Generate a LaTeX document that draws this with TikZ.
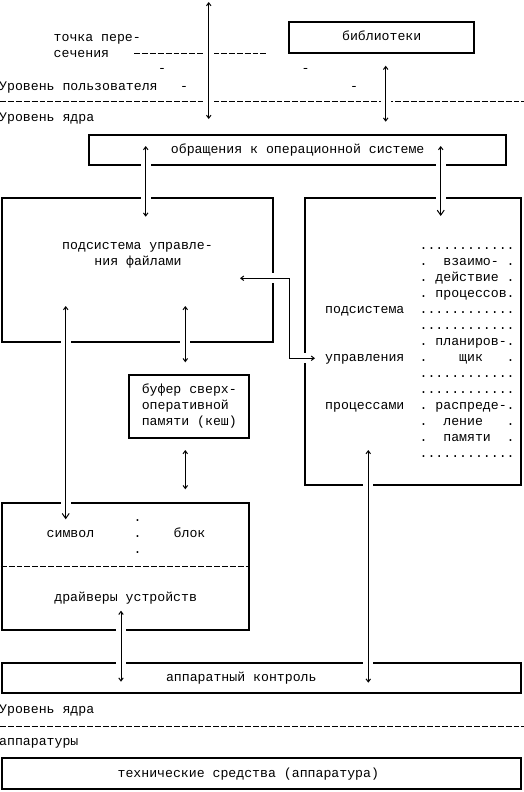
\documentclass[tikz,border=0pt]{standalone}
\usepackage{fontspec}
\newfontfamily\kfont{Liberation Mono}
\usepackage{tikz}
\usetikzlibrary{arrows.meta}

\tikzset{
  mono/.style={font=\kfont\fontsize{13.2}{16}\selectfont, inner sep=0pt},
  lbl/.style={mono, text height=9pt, text depth=3pt},
  box/.style={draw, line width=2pt, inner sep=0pt},
  link/.style={line width=1pt, {Straight Barb[length=3pt,width=4.5pt]}-{Straight Barb[length=3pt,width=4.5pt]},
    preaction={draw=white, line width=10pt, -}},
  linkv/.style={link, {Straight Barb[length=3pt,width=4.5pt]}-{Straight Barb[length=5pt,width=7pt]}},
  level/.style={line width=1pt, dash pattern=on 5.9pt off 2pt},
}

\begin{document}
\begin{tikzpicture}[x=1pt,y=-1pt]
\useasboundingbox (0,0) rectangle (524,792);

% boxes
\node[box, lbl, minimum width=184.7pt, minimum height=31.3pt] (lib) at (381.7,37.7) {библиотеки};
\node[box, lbl, minimum width=416.7pt, minimum height=30.3pt] (sys) at (297.7,150.2) {обращения к операционной системе};
\node[box, minimum width=271.6pt, minimum height=143.4pt] (fsys) at (137.5,270) {};
\node[box, minimum width=215.7pt, minimum height=287pt] (proc) at (412.9,341.8) {};
\node[box, mono, align=left, minimum width=120pt, minimum height=62.7pt] (cache) at (189.3,406.4) {буфер сверх-\\оперативной\\памяти (кеш)};
\node[box, minimum width=247.6pt, minimum height=126.7pt] (drv) at (125.5,566.7) {};
\node[box, minimum width=519pt, minimum height=30pt] (ctl) at (261.2,678.3) {};
\node[box, minimum width=519pt, minimum height=31pt] (tech) at (261.2,773.8) {};

% level lines
\draw[level] (0,101) -- (524,101);
\draw[level] (0,726) -- (524,726);
\draw[level] (134,54) -- (268,54);
\draw[level] (drv.west) -- (drv.east);

% connectors
\coordinate (u1) at (208.7,2);
\coordinate (u2) at (208.7,119);
\coordinate (l1) at (385.7,65.7);
\coordinate (l2) at (385.7,121.7);
\coordinate (s1) at (145.7,146);
\coordinate (s2) at (145.7,216.7);
\coordinate (s3) at (440.7,146);
\coordinate (s4) at (440.7,216);
\coordinate (f1) at (240,278.3);
\coordinate (bend) at (289.3,278.3);
\coordinate (p1) at (315,358.3);
\coordinate (f2) at (65.7,306);
\coordinate (d1) at (65.7,519.3);
\coordinate (f3) at (185.3,306);
\coordinate (c1) at (185.3,362.3);
\coordinate (c2) at (185.3,450);
\coordinate (d2) at (185.3,489.3);
\coordinate (d3) at (121,610.7);
\coordinate (h1) at (121,681.7);
\coordinate (p2) at (368.3,450);
\coordinate (h2) at (368.3,682.7);

\draw[link] (u1) -- (u2);
\draw[link] (l1) -- (l2);
\draw[link] (s1) -- (s2);
\draw[linkv] (s3) -- (s4);
\draw[link] (f1) -- (bend) |- (p1);
\draw[linkv] (f2) -- (d1);
\draw[link] (f3) -- (c1);
\draw[link] (c2) -- (d2);
\draw[link] (d3) -- (h1);
\draw[link] (p2) -- (h2);

% texts
\node[lbl, anchor=west] (cross1) at (53.5,38.3) {точка пере-};
\node[lbl, anchor=west] (cross2) at (53.5,54.3) {сечения};
\node[lbl, anchor=west] (user) at (-1,87) {Уровень пользователя};
\node[lbl, anchor=west] (kern1) at (-1,118) {Уровень ядра};
\foreach \x/\y [count=\i] in {162/70, 184/87, 305.7/70, 354/87}
  \node[lbl] (stroke\i) at (\x,\y) {-};
\node[lbl] (fsys1) at (137.5,246.7) {подсистема управле-};
\node[lbl] (fsys2) at (138,262.3) {ния файлами};

% process subsystem
\node[mono, anchor=base west] (pw1) at (325,313.5) {подсистема};
\node[mono, anchor=base west] (pw2) at (325,361.5) {управления};
\node[mono, anchor=base west] (pw3) at (325,409.5) {процессами};
\foreach \r/\t in {0/{............}, 1/{.~~взаимо-~.}, 2/{.~действие~.}, 3/{.~процессов.},
    4/{............}, 5/{............}, 6/{.~планиров-.}, 7/{.~~~~щик~~~.},
    8/{............}, 9/{............}, 10/{.~распреде-.}, 11/{.~~ление~~~.},
    12/{.~~памяти~~.}, 13/{............}}
  \node[mono, anchor=base west] (row\r) at (419.4,{249.5+16*\r}) {\t};

\node[lbl] (sym) at (70.5,534.3) {символ};
\foreach \y [count=\i] in {521.7,537.7,553.7}
  \node[mono, anchor=base] (dot\i) at (137.7,\y) {.};
\node[lbl] (blk) at (189.5,534.3) {блок};
\node[lbl] (drvtxt) at (125.7,598.3) {драйверы устройств};
\node[lbl] (ctltxt) at (241.3,678.3) {аппаратный контроль};
\node[lbl, anchor=west] (kern2) at (-1,710) {Уровень ядра};
\node[lbl, anchor=west] (hwlvl) at (-1,742.3) {аппаратуры};
\node[lbl] (techtxt) at (248.3,774.3) {технические средства (аппаратура)};
\end{tikzpicture}
\end{document}
